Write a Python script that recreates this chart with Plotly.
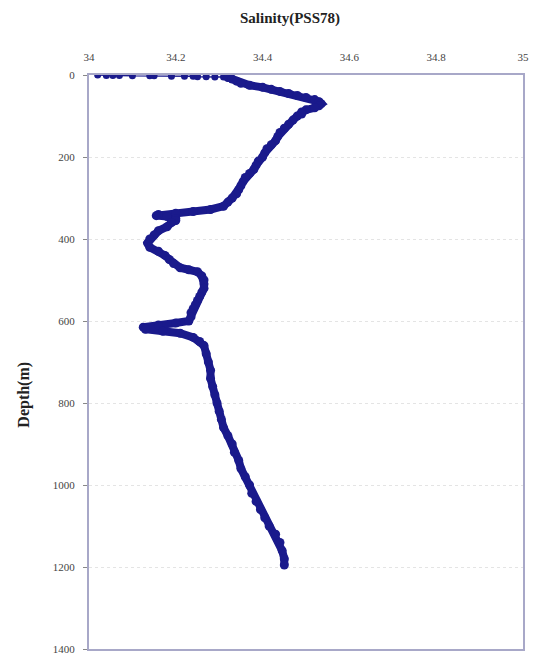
import plotly.graph_objects as go

# Near-surface readings (depth in m, salinity in PSS78)
surface_depth = [0, 1, 1, 1, 2, 2, 2, 3, 3, 3, 4, 4, 5, 5, 6]
surface_salinity = [34.02, 34.04, 34.055, 34.07, 34.10, 34.14, 34.15, 34.19, 34.22, 34.24, 34.25, 34.27, 34.29,
                    34.31, 34.32]

# Profile below the surface
depth = [6, 10, 15, 20, 25, 30, 35, 40, 45, 50, 55, 60, 65, 70, 75, 80, 85, 90, 95, 100,
         110, 120, 130, 140, 150, 160, 170, 180, 190, 200, 210, 220, 230, 240, 250, 260, 270, 280, 290, 300, 310, 320,
         328, 333, 337, 340, 343, 345, 350, 355, 360, 370, 380, 390, 400, 410, 420, 430, 440, 450, 460, 470, 475, 480,
         490, 500, 510, 520, 530, 540, 550, 560, 570, 580, 590, 600, 605, 610, 615, 620, 625, 630, 640, 650, 660, 680,
         700, 720, 740, 760, 780, 800, 820, 840, 860, 880, 900, 920, 940, 960, 980, 1000, 1020, 1040, 1060, 1080, 1100,
         1120, 1140, 1160, 1180, 1195]
salinity = [34.32, 34.33, 34.34, 34.35, 34.37, 34.40, 34.42, 34.44, 34.46, 34.48, 34.50, 34.52, 34.53, 34.535, 34.53,
            34.52, 34.50, 34.49, 34.49, 34.48, 34.47, 34.46, 34.45, 34.44, 34.435, 34.43, 34.42, 34.41, 34.405, 34.40,
            34.39, 34.385, 34.38, 34.37, 34.36, 34.355, 34.35, 34.345, 34.34, 34.33, 34.32, 34.31, 34.28, 34.24, 34.20,
            34.16, 34.155, 34.18, 34.20, 34.20, 34.19, 34.18, 34.16, 34.15, 34.14, 34.135, 34.14, 34.16, 34.175, 34.185,
            34.195, 34.21, 34.23, 34.25, 34.26, 34.265, 34.265, 34.265, 34.26, 34.255, 34.25, 34.245, 34.24, 34.235,
            34.235, 34.23, 34.20, 34.16, 34.125, 34.13, 34.17, 34.21, 34.24, 34.255, 34.265, 34.27, 34.275, 34.28,
            34.28, 34.285, 34.29, 34.295, 34.30, 34.305, 34.31, 34.32, 34.33, 34.335, 34.345, 34.35, 34.36, 34.37,
            34.375, 34.385, 34.395, 34.405, 34.415, 34.43, 34.44, 34.445, 34.45, 34.45]

x_ticks = [34, 34.2, 34.4, 34.6, 34.8, 35]
y_ticks = [0, 200, 400, 600, 800, 1000, 1200, 1400]

navy = "#1a1a8c"
serif = "Liberation Serif, Times New Roman, serif"

fig = go.Figure()
fig.add_trace(go.Scatter(
    x=surface_salinity, y=surface_depth, mode="lines+markers",
    line=dict(color=navy, width=1.5),
    marker=dict(color=navy, size=7, symbol="circle"),
    showlegend=False,
))
fig.add_trace(go.Scatter(
    x=salinity, y=depth, mode="lines+markers",
    line=dict(color=navy, width=8),
    marker=dict(color=navy, size=9, symbol="circle"),
    showlegend=False,
))

W, H = 537, 663
L, R, T, B = 89, 14, 75, 8
pw, ph = W - L - R, H - T - B

fig.update_layout(
    width=W, height=H,
    margin=dict(l=L, r=R, t=T, b=B),
    paper_bgcolor="white", plot_bgcolor="white",
    font=dict(family=serif, color="#444", size=11),
    xaxis=dict(side="top", range=[34, 35], tickvals=x_ticks, ticktext=[str(t) for t in x_ticks],
               showgrid=False, zeroline=False, showline=True, linecolor="#a8a8c8", linewidth=2, mirror=True,
               ticks="", ticklabelstandoff=8),
    yaxis=dict(range=[1400, 0], tickvals=y_ticks, showgrid=True, gridcolor="#e4e4e4", griddash="dot", gridwidth=1,
               zeroline=False, showline=True, linecolor="#a8a8c8", linewidth=2, mirror=True,
               ticks="outside", ticklen=4, tickcolor="#888", ticklabelstandoff=6),
    annotations=[
        dict(text="<b>Salinity(PSS78)</b>", x=(290 - L) / pw, y=1 + (T - 18) / ph, xref="paper", yref="paper",
             xanchor="center", yanchor="middle", showarrow=False,
             font=dict(family=serif, size=15, color="#222")),
        dict(text="<b>Depth(m)</b>", x=-(L - 24) / pw, y=1 - (398 - T) / ph, xref="paper", yref="paper",
             xanchor="center", yanchor="middle", textangle=-90, showarrow=False,
             font=dict(family=serif, size=16, color="#222")),
    ],
)

fig.write_html("out.html", config={"displayModeBar": False},
               post_script="document.body.style.margin='0';document.body.style.padding='0';")
